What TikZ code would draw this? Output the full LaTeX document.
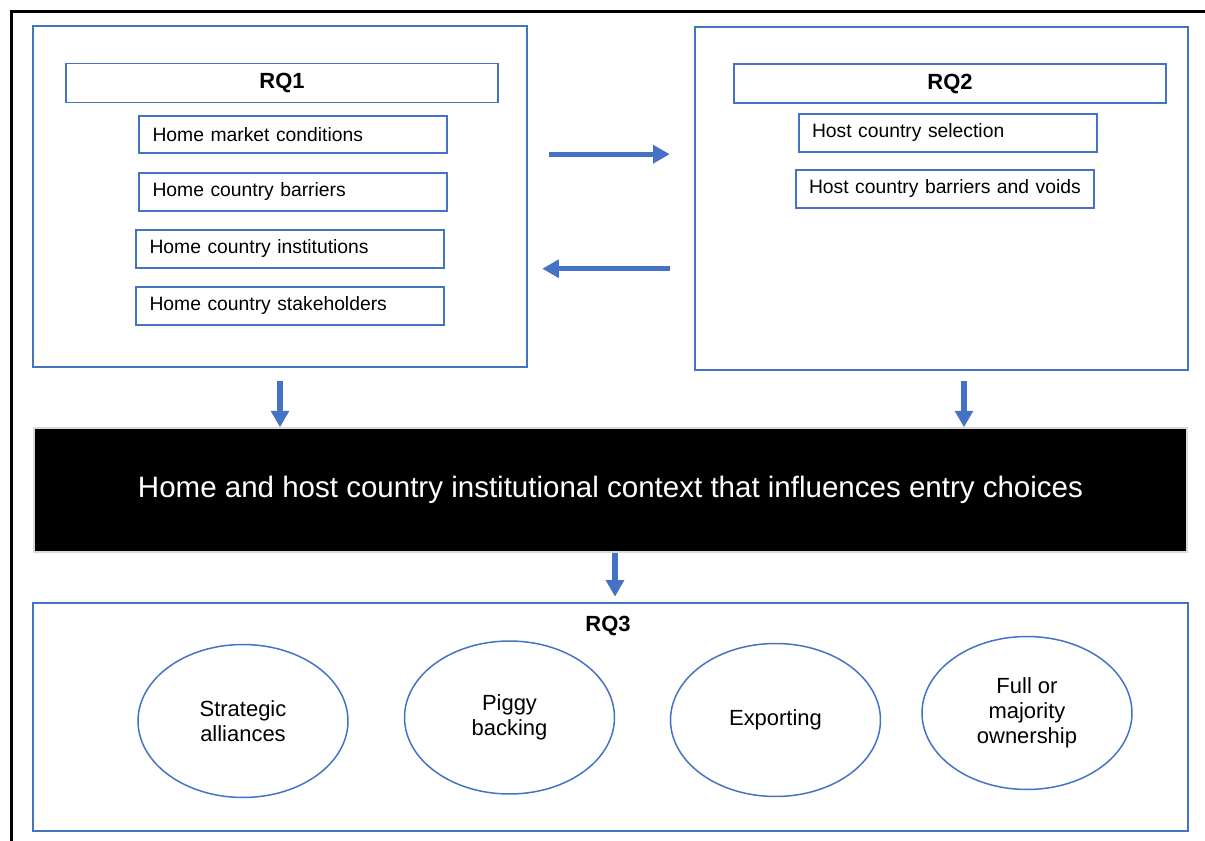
\documentclass[tikz,border=0pt]{standalone}
\usepackage{fontspec}
\setmainfont{Liberation Sans}
\usepackage{tikz}
\usetikzlibrary{arrows.meta,positioning,calc,shapes.geometric}
\definecolor{rqblue}{RGB}{68,114,196}
\tikzset{
  outerbox/.style={draw=rqblue, line width=1.5pt, inner sep=0pt},
  titlebox/.style={draw=rqblue, line width=1.1pt, inner sep=0pt, minimum width=8.64cm,
      minimum height=0.78cm, font=\fontsize{12.5}{15}\selectfont\bfseries},
  itembox/.style={draw=rqblue, line width=1.1pt, inner xsep=0.27cm, inner ysep=0pt,
      text width=5.62cm, align=left, minimum height=0.75cm,
      font=\fontsize{11}{13}\selectfont},
  ctxbox/.style={fill=black, draw=gray!30, line width=0.8pt, inner sep=0pt,
      minimum width=23.06cm, minimum height=2.48cm, text=white,
      font=\fontsize{16.8}{19}\selectfont},
  mode/.style={ellipse, draw=rqblue, line width=0.85pt, inner sep=0pt,
      minimum width=4.2cm, minimum height=3.06cm, align=center,
      font=\fontsize{12.5}{14.4}\selectfont},
  flow/.style={-{Triangle[length=0.33cm, width=0.35cm]}, rqblue, line width=2.9pt},
}
\begin{document}
\begin{tikzpicture}[x=0.02cm, y=-0.02cm]
  \useasboundingbox (0,0) rectangle (1205,841);
  % frame
  \draw[line width=2pt] (11.5,841) -- (11.5,11.5) -- (1205,11.5);

  % RQ1
  \node[outerbox, minimum width=9.88cm, minimum height=6.82cm] (rq1) at (280,196.5) {};
  \node[titlebox] (rq1t) at (282,83) {RQ1};
  \node[itembox] (home1) at (293,134.5) {Home market conditions};
  \node[itembox] (home2) at (293,192) {Home country barriers};
  \node[itembox] (home3) at (290,249) {Home country institutions};
  \node[itembox] (home4) at (290,306) {Home country stakeholders};

  % RQ2
  \node[outerbox, minimum width=9.86cm, minimum height=6.86cm] (rq2) at (941.5,198.5) {};
  \node[titlebox] (rq2t) at (950,83.5) {RQ2};
  \node[itembox, text width=5.44cm, inner xsep=0.26cm] (host1) at (948,133) {Host country selection};
  \node[itembox, text width=5.44cm, inner xsep=0.26cm] (host2) at (945,189) {Host country barriers and voids};

  \draw[flow, shorten <=0.42cm, shorten >=0.48cm] (rq1.east |- home1.south) -- (rq2.west |- home1.south);
  \draw[flow, shorten <=0.48cm, shorten >=0.28cm] (rq2.west |- home3.south) -- (rq1.east |- home3.south);

  % context
  \node[ctxbox] (ctx) at (610.5,490) {Home and host country institutional context that influences entry choices};
  \draw[flow, shorten <=0.26cm] (rq1.south) -- (rq1.south |- ctx.north);
  \draw[flow, shorten <=0.2cm] ([xshift=0.45cm]rq2.south) -- ([xshift=0.45cm]rq2.south |- ctx.north);

  % RQ3
  \node[outerbox, minimum width=23.1cm, minimum height=4.56cm] (rq3) at (610.5,717) {};
  \node[font=\fontsize{12.5}{15}\selectfont\bfseries] (rq3t) at (608,626) {RQ3};
  \draw[flow, shorten >=0.1cm] ([xshift=0.09cm]ctx.south) -- ([xshift=0.09cm]ctx.south |- rq3.north);

  \node[mode] (allian) at (243,721) {Strategic\\alliances};
  \node[mode] (piggy) at (509.5,717.5) {Piggy\\backing};
  \node[mode] (export) at (775.5,720) {Exporting};
  \node[mode] (owner) at (1027,713) {Full or\\majority\\ownership};
\end{tikzpicture}
\end{document}
